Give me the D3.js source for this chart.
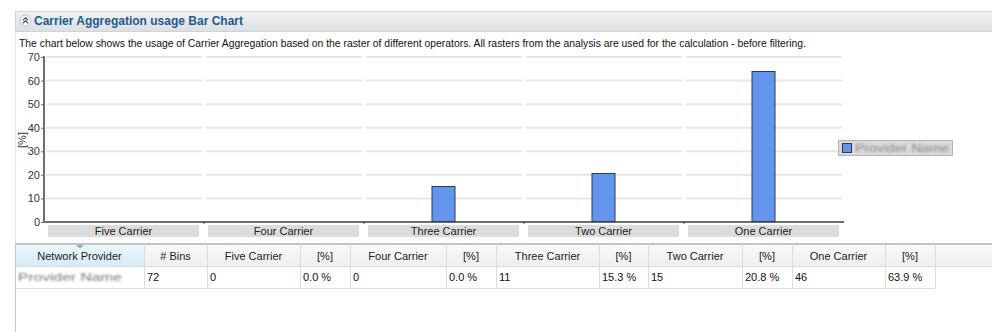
<!DOCTYPE html>
<html>
<head>
<meta charset="utf-8">
<script src="https://cdn.jsdelivr.net/npm/d3@7"></script>
<style>
  html, body { margin: 0; padding: 0; background: #fff; }
  svg { display: block; font-family: "Liberation Sans", Arial, sans-serif; }
</style>
</head>
<body>
<svg id="chart" width="992" height="332"></svg>
<script>
// ---------- data ----------
const titleText = "Carrier Aggregation usage Bar Chart";
const descriptionText = "The chart below shows the usage of Carrier Aggregation based on the raster of different operators. All rasters from the analysis are used for the calculation - before filtering.";
const categories = ["Five Carrier", "Four Carrier", "Three Carrier", "Two Carrier", "One Carrier"];
const percentValues = [0, 0, 15.3, 20.8, 63.9];
const binCounts = [0, 0, 11, 15, 46];
const totalBins = 72;
const yTicks = [0, 10, 20, 30, 40, 50, 60, 70];
const yAxisLabel = "[%]";
const providerName = "Provider Name";
const percentLabels = ["0.0 %", "0.0 %", "15.3 %", "20.8 %", "63.9 %"];
const tableHeaders = ["Network Provider", "# Bins", "Five Carrier", "[%]", "Four Carrier", "[%]", "Three Carrier", "[%]", "Two Carrier", "[%]", "One Carrier", "[%]", ""];
const columnEdges = [15, 144, 207, 300, 350, 446, 496, 599, 648, 742, 792, 885, 935, 992];

// ---------- setup ----------
const svg = d3.select("#chart");
const defs = svg.append("defs");

const hg = defs.append("linearGradient").attr("id", "hdrGrad").attr("x1", 0).attr("y1", 0).attr("x2", 0).attr("y2", 1);
hg.append("stop").attr("offset", "0%").attr("stop-color", "#f1f2f3");
hg.append("stop").attr("offset", "100%").attr("stop-color", "#dcdfe2");

const thg = defs.append("linearGradient").attr("id", "thGrad").attr("x1", 0).attr("y1", 0).attr("x2", 0).attr("y2", 1);
thg.append("stop").attr("offset", "0%").attr("stop-color", "#fbfbfb");
thg.append("stop").attr("offset", "100%").attr("stop-color", "#eeeeee");

const tbg = defs.append("linearGradient").attr("id", "thBlue").attr("x1", 0).attr("y1", 0).attr("x2", 0).attr("y2", 1);
tbg.append("stop").attr("offset", "0%").attr("stop-color", "#eef7fd");
tbg.append("stop").attr("offset", "100%").attr("stop-color", "#d6eaf7");

defs.append("filter").attr("id", "blur").append("feGaussianBlur").attr("stdDeviation", 1.1);

// ---------- panel header ----------
svg.append("rect").attr("x", 15.5).attr("y", 11.5).attr("width", 980).attr("height", 20)
  .attr("fill", "url(#hdrGrad)").attr("stroke", "#cfd3d6");
svg.append("circle").attr("cx", 25.5).attr("cy", 20.5).attr("r", 5.5)
  .attr("fill", "#f7f9fb").attr("stroke", "#b9c3cc");
svg.append("path").attr("d", "M22.8,20.3 L25.5,17.8 L28.2,20.3 M22.8,23.3 L25.5,20.8 L28.2,23.3")
  .attr("fill", "none").attr("stroke", "#1d4f7c").attr("stroke-width", 1.1);
svg.append("text").attr("x", 34).attr("y", 25).text(titleText)
  .attr("font-size", "13px").attr("font-weight", "bold").attr("fill", "#1d5a8e")
  .attr("textLength", 209).attr("lengthAdjust", "spacingAndGlyphs");

// left panel border
svg.append("line").attr("x1", 15.5).attr("x2", 15.5).attr("y1", 31).attr("y2", 332).attr("stroke", "#e4e4e4");

svg.append("text").attr("x", 19).attr("y", 47).text(descriptionText)
  .attr("font-size", "11px").attr("fill", "#111")
  .attr("textLength", 787).attr("lengthAdjust", "spacingAndGlyphs");

// ---------- chart ----------
const x = d3.scaleBand().domain(categories).range([44, 844]).padding(0);
const y = d3.scaleLinear().domain([0, 70]).range([222, 57]);

// gridlines, segmented per band
const gridG = svg.append("g");
categories.forEach(c => {
  gridG.selectAll(null).data(yTicks.filter(t => t > 0)).enter().append("line")
    .attr("x1", x(c) + 2).attr("x2", x(c) + x.bandwidth() - 2)
    .attr("y1", d => y(d)).attr("y2", d => y(d))
    .attr("stroke", "#e6e6e6").attr("stroke-width", 2);
});

// y axis
const yAxis = svg.append("g").attr("transform", "translate(44,0)")
  .call(d3.axisLeft(y).tickValues(yTicks).tickSize(3).tickPadding(1).tickFormat(d3.format("d")));
yAxis.select(".domain").attr("stroke", "#6e6e6e").attr("stroke-width", 2).attr("d", "M0,56V223");
yAxis.selectAll(".tick line").attr("stroke", "#6e6e6e");
yAxis.selectAll(".tick text").attr("font-family", "Liberation Sans, Arial, sans-serif")
  .attr("font-size", "11px").attr("fill", "#333");

svg.append("text").attr("transform", "translate(26,140) rotate(-90)")
  .attr("text-anchor", "middle").attr("font-size", "11px").attr("fill", "#333").text(yAxisLabel);

// x axis line
svg.append("line").attr("x1", 43).attr("x2", 844).attr("y1", 222).attr("y2", 222)
  .attr("stroke", "#6e6e6e").attr("stroke-width", 2);
// small ticks between bands
svg.selectAll(".bandTick").data(categories.slice(1)).enter().append("rect")
  .attr("x", d => x(d) - 1).attr("y", 222).attr("width", 2).attr("height", 1.5).attr("fill", "#555");

// category label boxes
const lab = svg.selectAll(".catLab").data(categories).enter().append("g");
lab.append("rect").attr("x", d => x(d) + 4).attr("y", 225).attr("width", x.bandwidth() - 9).attr("height", 12)
  .attr("fill", "#dcdcdc");
lab.append("text").attr("x", d => x(d) + 4 + (x.bandwidth() - 9) / 2).attr("y", 234.5)
  .attr("text-anchor", "middle").attr("font-size", "11px").attr("fill", "#222").text(d => d);

// bars
const barW = 23;
svg.selectAll(".bar").data(categories.map((c, i) => ({ c, v: percentValues[i] })).filter(d => d.v > 0))
  .enter().append("rect")
  .attr("x", d => x(d.c) + x.bandwidth() / 2 - barW / 2 - 1 + 0.5)
  .attr("y", d => Math.round(y(d.v)) + 0.5)
  .attr("width", barW)
  .attr("height", d => y(0) - Math.round(y(d.v)) - 1)
  .attr("fill", "#6495ed").attr("stroke", "#2f3a4a").attr("stroke-width", 1);

// legend
svg.append("rect").attr("x", 838.5).attr("y", 140.5).attr("width", 114).attr("height", 15)
  .attr("fill", "#d9d9d9").attr("stroke", "#b5b5b5");
svg.append("rect").attr("x", 842.5).attr("y", 143.5).attr("width", 9).attr("height", 9)
  .attr("fill", "#6495ed").attr("stroke", "#2f3a4a");
svg.append("text").attr("x", 855).attr("y", 152).attr("font-size", "10px").attr("fill", "#888")
  .attr("filter", "url(#blur)").attr("textLength", 94).attr("lengthAdjust", "spacingAndGlyphs").text(providerName);

// ---------- table ----------
const tTop = 244, tHead = 266, tRow = 288;
const heads = svg.append("g");
tableHeaders.forEach((h, i) => {
  const x0 = columnEdges[i], x1 = columnEdges[i + 1];
  heads.append("rect").attr("x", x0).attr("y", tTop).attr("width", x1 - x0).attr("height", tHead - tTop)
    .attr("fill", i === 0 ? "url(#thBlue)" : "url(#thGrad)");
  heads.append("text").attr("x", (x0 + x1) / 2).attr("y", 260).attr("text-anchor", "middle")
    .attr("font-size", "11px").attr("fill", "#222").text(h);
});
// sort indicator
svg.append("path").attr("d", "M76,245 L84,245 L80,248.5 Z").attr("fill", "#7fb3dc");

// data row
const rowValues = [providerName, String(totalBins)];
categories.forEach((c, i) => { rowValues.push(String(binCounts[i])); rowValues.push(percentLabels[i]); });
rowValues.forEach((v, i) => {
  svg.append("text").attr("x", columnEdges[i] + 3).attr("y", 281)
    .attr("font-size", "11px").attr("fill", i === 0 ? "#777" : "#111")
    .attr("filter", i === 0 ? "url(#blur)" : null)
    .attr("textLength", i === 0 ? 104 : null).attr("lengthAdjust", "spacingAndGlyphs")
    .text(v);
});

// table lines
svg.append("line").attr("x1", 15).attr("x2", 992).attr("y1", tTop).attr("y2", tTop).attr("stroke", "#c3c3c3").attr("stroke-width", 2);
svg.append("line").attr("x1", 15).attr("x2", 992).attr("y1", tHead + 0.5).attr("y2", tHead + 0.5).attr("stroke", "#dcdcdc");
svg.append("line").attr("x1", 15).attr("x2", 935).attr("y1", tRow + 0.5).attr("y2", tRow + 0.5).attr("stroke", "#dcdcdc");
columnEdges.slice(1, -1).forEach(e => {
  svg.append("line").attr("x1", e + 0.5).attr("x2", e + 0.5).attr("y1", tTop).attr("y2", tRow).attr("stroke", "#dcdcdc");
});
svg.append("line").attr("x1", 15.5).attr("x2", 15.5).attr("y1", tTop).attr("y2", 332).attr("stroke", "#c8c8c8");
</script>
</body>
</html>
